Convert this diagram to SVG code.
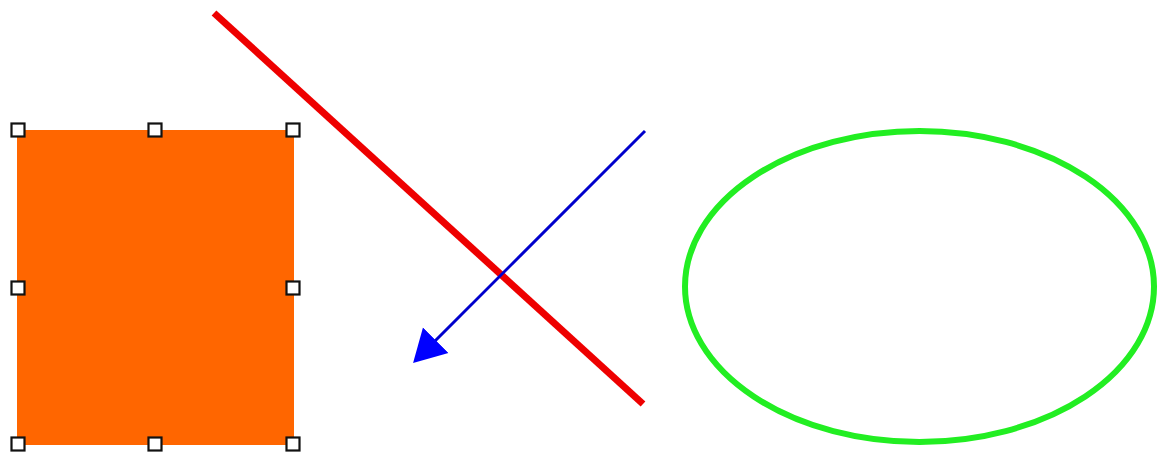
<svg xmlns="http://www.w3.org/2000/svg" width="1164" height="460" viewBox="0 0 1164 460">
<style>
.h{fill:#fff;stroke:#111;stroke-width:2.2}
</style>
<defs>
<marker id="ah" markerUnits="userSpaceOnUse" markerWidth="34" markerHeight="38" refX="1" refY="18" orient="auto" viewBox="0 0 34 36">
<path d="M0,0 L32,18 L0,36 Z" fill="#0000ff"/>
</marker>
</defs>
<rect width="1164" height="460" fill="#fff"/>
<g id="rect">
<rect x="17" y="130" width="277" height="315" fill="#ff6600"/>
<rect class="h" x="11.5" y="123.5" width="13" height="13"/>
<rect class="h" x="148.5" y="123.5" width="13" height="13"/>
<rect class="h" x="286.5" y="123.5" width="13" height="13"/>
<rect class="h" x="11.5" y="281.5" width="13" height="13"/>
<rect class="h" x="286.5" y="281.5" width="13" height="13"/>
<rect class="h" x="11.5" y="437.5" width="13" height="13"/>
<rect class="h" x="148.5" y="437.5" width="13" height="13"/>
<rect class="h" x="286.5" y="437.5" width="13" height="13"/>
</g>
<g id="redline">
<line x1="214" y1="13" x2="643" y2="404" stroke="#ee0000" stroke-width="7"/>
</g>
<g id="arrow">
<line x1="645" y1="131" x2="435" y2="341" stroke="#0000cc" stroke-width="3" marker-end="url(#ah)"/>
</g>
<g id="ellipse">
<ellipse cx="919.5" cy="286.5" rx="234.5" ry="155.5" fill="none" stroke="#22ee22" stroke-width="6"/>
</g>
</svg>
